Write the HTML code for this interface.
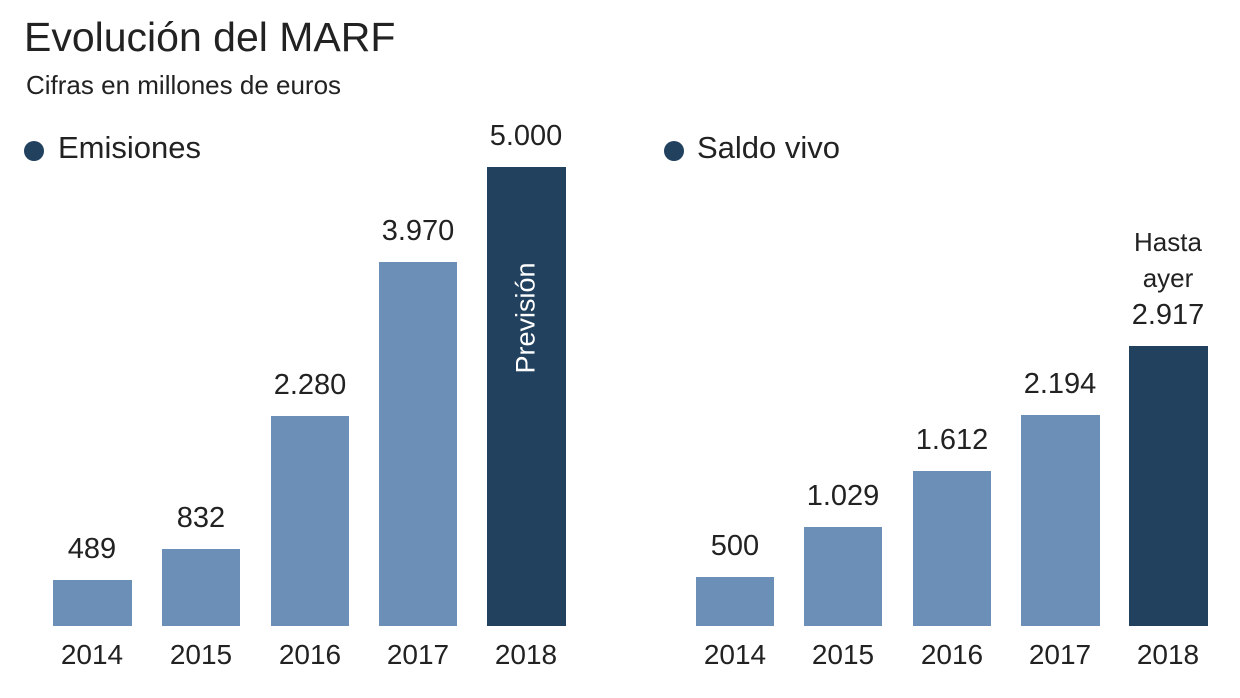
<!DOCTYPE html>
<html><head><meta charset="utf-8"><style>
body{margin:0;width:1240px;height:698px;background:#fff;position:relative;overflow:hidden;font-family:"Liberation Sans",sans-serif;color:#222}
.a{position:absolute;white-space:nowrap}
.b{position:absolute;background:#6b8fb7}
.d{background:#21415f}
.v{position:absolute;width:140px;text-align:center;font-size:29px;color:#222}
.y{position:absolute;width:140px;text-align:center;font-size:28px;top:639px;color:#222}
.dot{position:absolute;width:20px;height:20px;border-radius:50%;background:#21415f}
</style></head><body>
<div class="a" style="left:24px;top:14px;font-size:41px;color:#222">Evolución del MARF</div>
<div class="a" style="left:26px;top:70px;font-size:26px;color:#222">Cifras en millones de euros</div>
<div class="dot" style="left:24px;top:141px"></div>
<div class="a" style="left:58px;top:130px;font-size:31px">Emisiones</div>
<div class="dot" style="left:664px;top:141px"></div>
<div class="a" style="left:697px;top:130px;font-size:31px">Saldo vivo</div>

<div class="b" style="left:53px;top:580px;width:79px;height:46px"></div>
<div class="b" style="left:162px;top:549px;width:78px;height:77px"></div>
<div class="b" style="left:271px;top:416px;width:78px;height:210px"></div>
<div class="b" style="left:379px;top:262px;width:78px;height:364px"></div>
<div class="b d" style="left:487px;top:167px;width:79px;height:459px"></div>
<div class="a" style="left:526px;top:318px;transform:translate(-50%,-50%) rotate(-90deg);color:#fff;font-size:27px">Previsión</div>

<div class="v" style="left:22px;top:533px">489</div>
<div class="v" style="left:131px;top:502px">832</div>
<div class="v" style="left:240px;top:369px">2.280</div>
<div class="v" style="left:348px;top:215px">3.970</div>
<div class="v" style="left:456px;top:120px">5.000</div>

<div class="b" style="left:696px;top:577px;width:78px;height:49px"></div>
<div class="b" style="left:804px;top:527px;width:78px;height:99px"></div>
<div class="b" style="left:913px;top:471px;width:78px;height:155px"></div>
<div class="b" style="left:1021px;top:415px;width:79px;height:211px"></div>
<div class="b d" style="left:1129px;top:346px;width:79px;height:280px"></div>

<div class="v" style="left:665px;top:530px">500</div>
<div class="v" style="left:773px;top:480px">1.029</div>
<div class="v" style="left:882px;top:424px">1.612</div>
<div class="v" style="left:990px;top:368px">2.194</div>
<div class="v" style="left:1098px;top:299px">2.917</div>
<div class="v" style="left:1098px;top:224px;font-size:26px;line-height:36px">Hasta<br>ayer</div>

<div class="y" style="left:22px">2014</div>
<div class="y" style="left:131px">2015</div>
<div class="y" style="left:240px">2016</div>
<div class="y" style="left:348px">2017</div>
<div class="y" style="left:456px">2018</div>
<div class="y" style="left:665px">2014</div>
<div class="y" style="left:773px">2015</div>
<div class="y" style="left:882px">2016</div>
<div class="y" style="left:990px">2017</div>
<div class="y" style="left:1098px">2018</div>
</body></html>
